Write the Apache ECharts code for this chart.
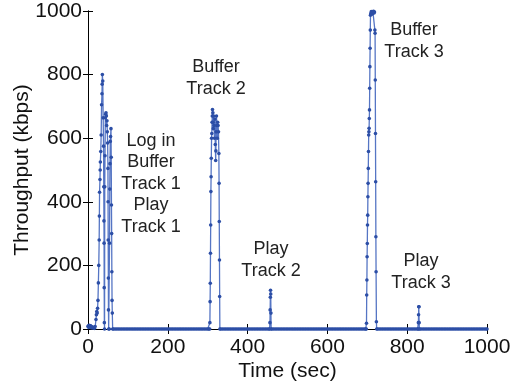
<!DOCTYPE html>
<html>
<head>
<meta charset="utf-8">
<script src="https://cdn.jsdelivr.net/npm/echarts@6/dist/echarts.min.js"></script>
<style>
  html, body { margin: 0; padding: 0; background: #fff; }
  #chart { width: 512px; height: 387px; }
</style>
</head>
<body>
<div id="chart"></div>
<script>
// throughput samples, [time sec, kbps]
const loginTrack1 = [
  [0, 8], [1, 10], [2, 5], [3, 12], [4, 8], [5, 6], [6, 10], [7, 9], [8, 4], [9, 7],
  [10, 6], [12, 3], [14, 5], [16, 2], [18, 8], [20, 30], [21, 45], [22, 55], [23, 50],
  [24, 65], [25, 90], [26, 145], [27, 200], [28, 280], [28.5, 355], [29, 430], [30, 470],
  [30.5, 500], [31, 525], [32, 558], [33, 610], [34, 705], [35, 740], [35.5, 770],
  [36, 800], [37, 780], [38, 664], [39, 575], [39.5, 447], [40, 340], [40.3, 270],
  [40.6, 130], [41, 20], [41.5, 0], [42, 447], [42.6, 545], [43.5, 664], [44.3, 675],
  [45.1, 680], [46, 670], [46.7, 640], [47.5, 655], [48.4, 620], [49.2, 585],
  [50, 505], [50.3, 400], [50.6, 280], [51, 160], [51.3, 60], [51.8, 0], [53.4, 0],
  [54, 270], [54.6, 440], [55.1, 520], [55.8, 590], [56.6, 605], [57.6, 630],
  [58.2, 540], [58.8, 390], [59.3, 300], [59.8, 180], [60.3, 90], [60.9, 50], [61.8, 0]
];
const bufferTrack2 = [
  [305, 0], [305.5, 20], [306, 86], [306.5, 144], [307, 238], [307.5, 327], [308, 432],
  [308.5, 479], [309, 537], [309.7, 600], [310.3, 615], [311, 650], [311.5, 670],
  [312, 690], [313, 680], [313.5, 650], [314, 630], [315, 670], [316, 640], [317, 600],
  [318, 660], [319, 580], [320, 530], [320.5, 560], [321, 620], [322, 670], [323, 640],
  [324, 600], [325, 650], [326, 640], [327, 620], [328, 552], [328.5, 458],
  [329, 338], [329.5, 217], [330, 102], [330.5, 0]
];
const playTrack2 = [
  [455, 0], [456, 20], [456.5, 60], [457, 100], [457.5, 122], [458, 110], [458.5, 50], [459, 0]
];
const bufferTrack3 = [
  [697.5, 0], [698, 18], [698.5, 107], [699, 154], [699.5, 227], [700, 269], [700.5, 327],
  [701, 358], [701.5, 416], [702, 458], [702.5, 505], [703, 558], [703.5, 610],
  [704, 620], [704.5, 631], [705, 662], [705.5, 689], [706, 757], [706.5, 825],
  [707, 883], [707.5, 940], [708, 987], [709, 993], [710, 998], [711, 990], [712, 996],
  [713, 992], [714, 998], [715, 995], [716, 999], [717, 994], [718, 997], [719, 940],
  [719.5, 930], [720, 783], [720.5, 615], [721, 463], [721.5, 290], [722, 180],
  [722.8, 23], [723.5, 0]
];
const playTrack3 = [
  [827.5, 0], [828, 20], [828.5, 45], [829, 70], [829.5, 70], [830, 20], [830.5, 0]
];
// idle stretches, throughput sits at 0 (samples every few seconds)
const idleTimes = [
  64, 68, 72, 76, 80, 84, 88, 92, 96, 100, 104, 108, 112, 116, 120, 124, 128, 132, 136,
  140, 144, 148, 152, 156, 160, 164, 168, 172, 176, 180, 184, 188, 192, 196, 200, 204,
  208, 212, 216, 220, 224, 228, 232, 236, 240, 244, 248, 252, 256, 260, 264, 268, 272,
  276, 280, 284, 288, 292, 296, 300, 303,
  333, 337, 341, 345, 349, 353, 357, 361, 365, 369, 373, 377, 381, 385, 389, 393, 397,
  401, 405, 409, 413, 417, 421, 425, 429, 433, 437, 441, 445, 449, 453,
  461, 465, 469, 473, 477, 481, 485, 489, 493, 497, 501, 505, 509, 513, 517, 521, 525,
  529, 533, 537, 541, 545, 549, 553, 557, 561, 565, 569, 573, 577, 581, 585, 589, 593,
  597, 601, 605, 609, 613, 617, 621, 625, 629, 633, 637, 641, 645, 649, 653, 657, 661,
  665, 669, 673, 677, 681, 685, 689, 693, 696,
  726, 730, 734, 738, 742, 746, 750, 754, 758, 762, 766, 770, 774, 778, 782, 786, 790,
  794, 798, 802, 806, 810, 814, 818, 822, 826,
  833, 837, 841, 845, 849, 853, 857, 861, 865, 869, 873, 877, 881, 885, 889, 893, 897,
  901, 905, 909, 913, 917, 921, 925, 929, 933, 937, 941, 945, 949, 953, 957, 961, 965,
  969, 973, 977, 981, 985, 989, 993, 997, 1000
];
const xTicks = [0, 200, 400, 600, 800, 1000];
const yTicks = [0, 200, 400, 600, 800, 1000];

const points = loginTrack1
  .concat(bufferTrack2, playTrack2, bufferTrack3, playTrack3, idleTimes.map(t => [t, 0]))
  .sort((a, b) => a[0] - b[0]);

const chart = echarts.init(document.getElementById("chart"));

const font = "Liberation Sans";
const axisCommon = {
  min: 0,
  max: 1000,
  interval: 200,
  axisLine: { show: true, lineStyle: { color: "#000", width: 1 } },
  axisTick: { show: true, inside: true, length: 5, lineStyle: { color: "#000" } },
  splitLine: { show: false }
};

function note(text, x, y) {
  return {
    type: "text",
    style: {
      text: text,
      x: x,
      y: y,
      font: "18px " + font,
      fill: "#222",
      align: "center",
      verticalAlign: "middle",
      lineHeight: 21.5
    }
  };
}

chart.setOption({
  animation: false,
  grid: { left: 88, right: 25, top: 11, bottom: 58, outerBoundsMode: "none", containLabel: false },
  xAxis: [
    Object.assign({}, axisCommon, {
      type: "value",
      position: "bottom",
      name: "Time (sec)",
      nameLocation: "middle",
      nameGap: 32,
      nameMoveOverlap: false,
      nameTextStyle: { fontFamily: font, fontSize: 21, color: "#111" },
      axisLabel: {
        fontFamily: font, fontSize: 21, color: "#111", margin: 8,
        formatter: v => String(v),
        customValues: xTicks
      }
    }),
    Object.assign({}, axisCommon, {
      type: "value",
      position: "top",
      axisLabel: { show: false }
    })
  ],
  yAxis: [
    Object.assign({}, axisCommon, {
      type: "value",
      position: "left",
      name: "Throughput (kbps)",
      nameLocation: "middle",
      nameGap: 55,
      nameMoveOverlap: false,
      nameTextStyle: { fontFamily: font, fontSize: 21, color: "#111" },
      axisLabel: {
        fontFamily: font, fontSize: 21, color: "#111", margin: 6,
        formatter: v => String(v),
        customValues: yTicks
      }
    }),
    Object.assign({}, axisCommon, {
      type: "value",
      position: "right",
      axisLabel: { show: false }
    })
  ],
  series: [
    {
      type: "line",
      data: points,
      symbol: "circle",
      symbolSize: 3.6,
      showSymbol: true,
      lineStyle: { color: "#5575c4", width: 1.3 },
      itemStyle: { color: "#2c4ea6" },
      clip: true
    }
  ],
  graphic: [
    note("Log in\nBuffer\nTrack 1\nPlay\nTrack 1", 151, 184),
    note("Buffer\nTrack 2", 216, 78),
    note("Buffer\nTrack 3", 414, 41),
    note("Play\nTrack 2", 271, 260),
    note("Play\nTrack 3", 421, 272)
  ]
});
</script>
</body>
</html>
